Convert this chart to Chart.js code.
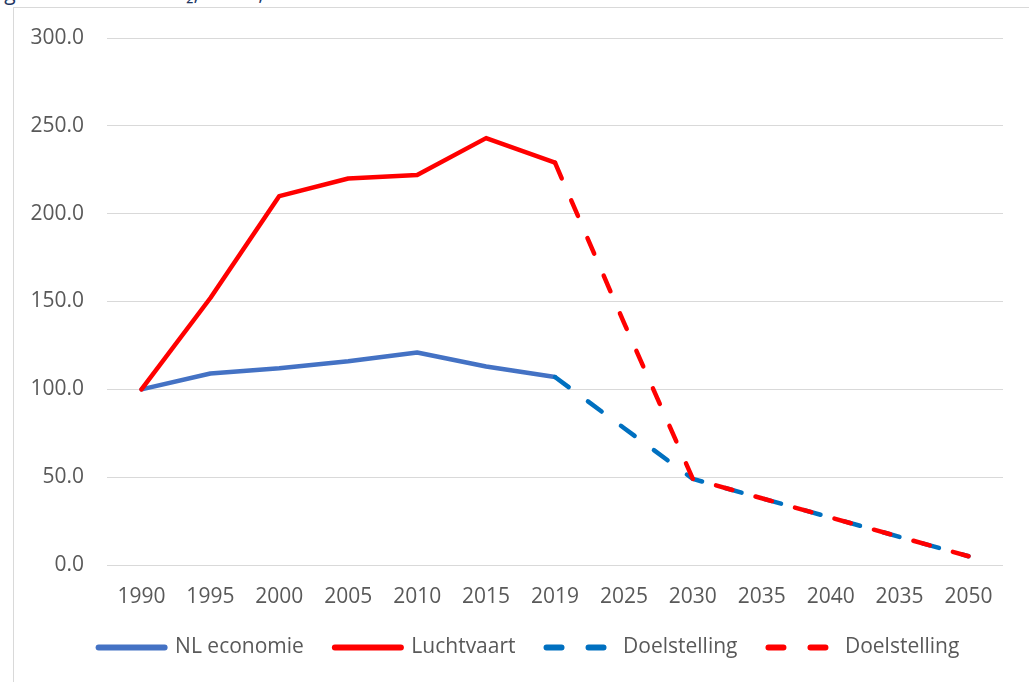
<!DOCTYPE html>
<html>
<head>
<meta charset="utf-8">
<script src="https://cdn.jsdelivr.net/npm/chart.js@4/dist/chart.umd.min.js"></script>
<style>
  html, body { margin: 0; padding: 0; width: 1029px; height: 682px; overflow: hidden; background: #fff; }
  #caption {
    position: absolute; left: -12px; top: -22px; white-space: nowrap;
    font: 21px "Open Sans", sans-serif; color: #1F3864;
  }
  #frame {
    position: absolute; left: 13px; top: 7px; width: 1040px; height: 700px;
    border: 1px solid #D9D9D9; overflow: hidden;
  }
  #chart { position: absolute; left: 0; top: 0; }
</style>
</head>
<body>
<div id="caption">Figuur 2 Uitstoot CO₂, index, 1990 = 100</div>
<div id="frame"><canvas id="chart" width="1030" height="660"></canvas></div>
<script>
// ── Data ──────────────────────────────────────────────────────
const years = ['1990', '1995', '2000', '2005', '2010', '2015', '2019', '2025', '2030', '2035', '2040', '2035', '2050'];
const nlEconomie = [100, 109, 112, 116, 121, 113, 107, null, null, null, null, null, null];
const luchtvaart = [100, 152, 210, 220, 222, 243, 229, null, null, null, null, null, null];
const doelNL = [null, null, null, null, null, null, 107, 78, 49, 38, 27, 16, 5];
const doelLucht = [null, null, null, null, null, null, 229, 138, 49, 38, 27, 16, 5];
const yTicks = [0, 50, 100, 150, 200, 250, 300];

const TXT = '#595959';
const GRID = '#D9D9D9';
const FONT = { family: '"Open Sans", sans-serif', size: 21 };
const DASH = [17, 24];

// ── Dataset helper ────────────────────────────────────────────
const line = (label, data, color, dash, order) => ({
  label, data,
  borderColor: color,
  backgroundColor: color,
  borderWidth: 4.5,
  borderDash: dash,
  borderCapStyle: 'round',
  borderJoinStyle: 'round',
  pointRadius: 0,
  pointHoverRadius: 0,
  tension: 0,
  fill: false,
  order
});

new Chart(document.getElementById('chart'), {
  type: 'line',
  data: {
    labels: years,
    datasets: [
      line('NL economie', nlEconomie, '#4472C4', [], 4),
      line('Luchtvaart', luchtvaart, '#FF0000', [], 3),
      line('Doelstelling', doelNL, '#0070C0', DASH, 2),
      line('Doelstelling', doelLucht, '#FF0000', DASH, 1)
    ]
  },
  options: {
    responsive: false,
    animation: false,
    layout: { padding: { top: 30, left: 0, right: 0, bottom: 0 } },
    plugins: {
      tooltip: { enabled: false },
      legend: {
        position: 'bottom',
        labels: {
          color: TXT,
          font: FONT,
          usePointStyle: true,
          pointStyle: 'line',
          pointStyleWidth: 66,
          padding: 31,
          sort: (a, b) => a.datasetIndex - b.datasetIndex,
          generateLabels: chart => Chart.defaults.plugins.legend.labels.generateLabels(chart).map(l => {
            const ds = chart.data.datasets[l.datasetIndex];
            return {
              ...l,
              pointStyle: 'line',
              lineWidth: 6,
              lineCap: 'round',
              lineDash: ds.borderDash.length ? [15, 27] : [],
              lineDashOffset: 0
            };
          })
        }
      }
    },
    scales: {
      x: {
        offset: true,
        grid: { display: false, drawTicks: false },
        border: { display: false },
        ticks: { color: TXT, font: FONT, padding: 19, maxRotation: 0, autoSkip: false },
        afterFit: s => { s.height = 41; }
      },
      y: {
        min: 0, max: 300,
        grid: { color: GRID, lineWidth: 1, drawTicks: false },
        border: { display: false },
        afterBuildTicks: s => { s.ticks = yTicks.map(v => ({ value: v })); },
        ticks: { color: TXT, font: FONT, padding: 23, callback: v => v.toFixed(1) },
        afterFit: s => { s.width = 93; s.paddingTop = 0; s.paddingBottom = 0; }
      },
      y2: {
        position: 'right',
        display: true,
        grid: { display: false },
        border: { display: false },
        ticks: { display: false },
        afterFit: s => { s.width = 41; s.paddingTop = 0; s.paddingBottom = 0; }
      }
    }
  }
});
</script>
</body>
</html>
